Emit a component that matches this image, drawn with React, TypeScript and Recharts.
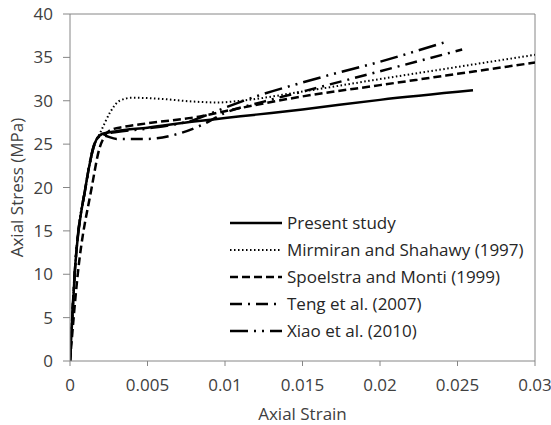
import React from 'react';
import { LineChart, Line, XAxis, YAxis, ReferenceLine } from 'recharts';

// values (strain, MPa)
const presentStrain = [0, 0.0003, 0.001, 0.0017, 0.0021, 0.003, 0.005, 0.008, 0.01, 0.012, 0.015, 0.02, 0.026];
const presentStress = [0, 10, 20, 25.5, 26.2, 26.5, 26.9, 27.6, 28.0, 28.4, 29.0, 30.1, 31.2];

const mirmiranStrain = [0, 0.0003, 0.001, 0.0016, 0.002, 0.0026, 0.0032, 0.004, 0.006, 0.008, 0.0095, 0.011, 0.0148, 0.02, 0.025, 0.03];
const mirmiranStress = [0, 10, 20, 25, 26.5, 28.7, 30.0, 30.35, 30.2, 29.9, 29.8, 30.0, 31.0, 32.5, 33.9, 35.3];

const spoelstraStrain = [0, 0.0005, 0.0014, 0.0019, 0.0022, 0.0026, 0.0035, 0.005, 0.0084, 0.01, 0.015, 0.02, 0.025, 0.03];
const spoelstraStress = [0, 10, 20, 24.5, 25.8, 26.6, 27.0, 27.4, 28.2, 28.8, 30.5, 31.8, 33.1, 34.4];

const tengStrain = [0, 0.0003, 0.001, 0.0017, 0.0021, 0.003, 0.005, 0.007, 0.0085, 0.01, 0.0125, 0.0153, 0.02, 0.0253];
const tengStress = [0, 10, 20, 25.5, 26.0, 25.6, 25.6, 26.2, 27.2, 28.6, 29.9, 31.2, 33.4, 35.9];

const xiaoStrain = [0, 0.0003, 0.001, 0.0017, 0.0021, 0.003, 0.005, 0.008, 0.01, 0.012, 0.0148, 0.0168, 0.02, 0.0241];
const xiaoStress = [0, 10, 20, 25.5, 26.1, 26.4, 26.8, 27.8, 29.2, 30.5, 32.0, 33.0, 34.5, 36.7];

const xTicks = [0, 0.005, 0.01, 0.015, 0.02, 0.025, 0.03];
const yTicks = [0, 5, 10, 15, 20, 25, 30, 35, 40];

const toPoints = (xs: number[], ys: number[]) => xs.map((x, i) => ({ x, y: ys[i] }));

const series = [
  { name: 'Present study', data: toPoints(presentStrain, presentStress), dash: undefined, width: 2.5 },
  { name: 'Mirmiran and Shahawy (1997)', data: toPoints(mirmiranStrain, mirmiranStress), dash: '1.5 2.5', width: 2 },
  { name: 'Spoelstra and Monti (1999)', data: toPoints(spoelstraStrain, spoelstraStress), dash: '8 4', width: 2.5 },
  { name: 'Teng et al. (2007)', data: toPoints(tengStrain, tengStress), dash: '12 6 2 6', width: 2.5 },
  { name: 'Xiao et al. (2010)', data: toPoints(xiaoStrain, xiaoStress), dash: '18 6 2 6 2 6', width: 2.5 },
];

const font = '"Open Sans", Lato, sans-serif';
const fontSize = 17;
const textColor = '#404040';
const axisColor = '#868686';

// legend drawn as an overlay inside the plot area, like the original figure
function LegendBox() {
  return (
    <svg width={320} height={130} style={{ position: 'absolute', left: 228, top: 212 }}>
      {series.map((s, i) => {
        const y = 11 + i * 27;
        return (
          <g key={s.name}>
            <line x1={2} x2={54} y1={y} y2={y} stroke="#000" strokeWidth={s.width} strokeDasharray={s.dash} />
            <text x={59} y={y} dy="0.35em" fontSize={fontSize} fontFamily={font} fill="#262626">{s.name}</text>
          </g>
        );
      })}
    </svg>
  );
}

export default function App() {
  return (
    <div style={{ position: 'absolute', left: 0, top: 0, width: 551, height: 425, background: '#fff' }}>
      <LineChart width={551} height={425} margin={{ top: 14, right: 16, bottom: 0, left: 0 }}>
        <XAxis
          dataKey="x"
          type="number"
          domain={[0, 0.03]}
          ticks={xTicks}
          allowDataOverflow
          height={64}
          stroke={axisColor}
          tickSize={5}
          tickMargin={13}
          tick={{ fill: textColor, fontSize, fontFamily: font }}
          label={{ value: 'Axial Strain', position: 'insideBottom', offset: 5, fill: textColor, fontSize, fontFamily: font }}
        />
        <YAxis
          type="number"
          domain={[0, 40]}
          ticks={yTicks}
          width={70}
          stroke={axisColor}
          tickSize={7}
          tickMargin={10}
          tick={{ fill: textColor, fontSize, fontFamily: font }}
          label={{ value: 'Axial Stress (MPa)', angle: -90, position: 'insideLeft', offset: 17, style: { textAnchor: 'middle' }, fill: textColor, fontSize, fontFamily: font }}
        />
        <ReferenceLine y={40} stroke={axisColor} strokeWidth={1} />
        <ReferenceLine x={0.03} stroke={axisColor} strokeWidth={1} />
        {series.map((s) => (
          <Line
            key={s.name}
            data={s.data}
            dataKey="y"
            name={s.name}
            type="monotone"
            stroke="#000"
            strokeWidth={s.width}
            strokeDasharray={s.dash}
            dot={false}
            activeDot={false}
            isAnimationActive={false}
          />
        ))}
      </LineChart>
      <LegendBox />
    </div>
  );
}
